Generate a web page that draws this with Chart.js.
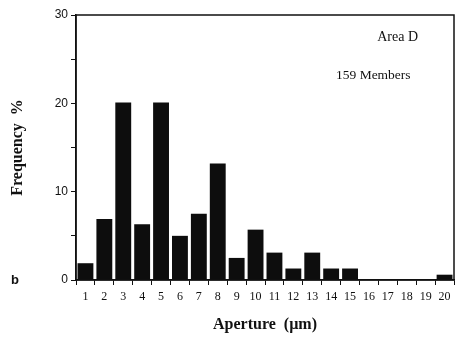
<!DOCTYPE html>
<html>
<head>
<meta charset="utf-8">
<script src="https://cdn.jsdelivr.net/npm/chart.js@4.4.1/dist/chart.umd.min.js"></script>
<style>
  html, body { margin: 0; padding: 0; background: #fff; }
  #wrap { width: 459px; height: 339px; position: relative; }
</style>
</head>
<body>
<div id="wrap"><canvas id="c" width="459" height="339"></canvas></div>
<script>
// Aperture classes (µm) and frequency (% of 159 members)
const apertures = ['1','2','3','4','5','6','7','8','9','10','11','12','13','14','15','16','17','18','19','20'];
const frequency = [1.9, 6.9, 20.1, 6.3, 20.1, 5.0, 7.5, 13.2, 2.5, 5.7, 3.1, 1.3, 3.1, 1.3, 1.3, 0, 0, 0, 0, 0.6];
const yTicks = [0, 10, 20, 30];
const areaLabel = 'Area D';
const membersLabel = '159 Members';
const panelLabel = 'b';

const serif = '"Liberation Serif", "Times New Roman", serif';
const sans = '"Liberation Sans", Arial, sans-serif';

const frameAndNotes = {
  id: 'frameAndNotes',
  afterDraw(chart) {
    const { ctx, chartArea: a } = chart;
    ctx.save();
    ctx.strokeStyle = '#111';
    ctx.lineWidth = 1.5;
    ctx.strokeRect(a.left, a.top, a.right - a.left, a.bottom - a.top);

    ctx.fillStyle = '#111';
    ctx.textBaseline = 'middle';
    ctx.font = '14px ' + serif;
    ctx.textAlign = 'right';
    ctx.fillText(areaLabel, a.right - 36, a.top + 22);
    ctx.textAlign = 'left';
    ctx.font = '13.5px ' + serif;
    ctx.fillText(membersLabel, a.right - 118, a.top + 60);

    ctx.font = 'bold 13px ' + sans;
    ctx.textAlign = 'center';
    ctx.fillText(panelLabel, 15, a.bottom);
    ctx.restore();
  }
};

new Chart(document.getElementById('c'), {
  type: 'bar',
  data: {
    labels: apertures,
    datasets: [{
      data: frequency,
      backgroundColor: '#0d0d0d',
      borderWidth: 0,
      barPercentage: 0.84,
      categoryPercentage: 1.0
    }]
  },
  options: {
    responsive: false,
    animation: false,
    devicePixelRatio: 1,
    layout: { padding: { top: 15, right: 5, left: 0, bottom: 0 } },
    plugins: { legend: { display: false }, tooltip: { enabled: false } },
    scales: {
      x: {
        grid: { offset: true, drawOnChartArea: false, drawTicks: true, tickLength: 5, color: '#111', lineWidth: 1 },
        border: { display: true, color: '#111', width: 1.5 },
        ticks: { color: '#111', font: { family: serif, size: 12 }, padding: 5, maxRotation: 0, autoSkip: false },
        title: { display: true, text: 'Aperture  (µm)', color: '#111', font: { family: serif, size: 16, weight: 'bold' }, padding: { top: 0, bottom: 5 } },
        afterFit(scale) { scale.height = 59; }
      },
      y: {
        min: 0, max: 30,
        grid: { drawOnChartArea: false, drawTicks: true, tickLength: 5, color: '#111', lineWidth: 1 },
        border: { display: true, color: '#111', width: 1.5 },
        ticks: {
          stepSize: 5,
          color: '#111',
          font: { family: sans, size: 12 },
          padding: 3,
          callback: (v) => (yTicks.includes(v) ? String(v) : '')
        },
        title: { display: true, text: 'Frequency  %', color: '#111', font: { family: serif, size: 16, weight: 'bold' }, padding: { top: 8, bottom: 0 } },
        afterFit(scale) { scale.width = 76; }
      }
    }
  },
  plugins: [frameAndNotes]
});
</script>
</body>
</html>
